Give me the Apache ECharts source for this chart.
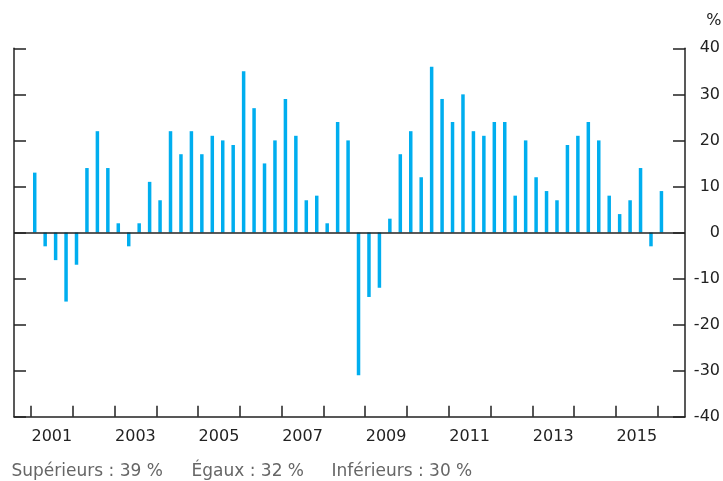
<!DOCTYPE html>
<html>
<head>
<meta charset="utf-8">
<script src="https://cdn.jsdelivr.net/npm/echarts@6/dist/echarts.min.js"></script>
<style>
html,body{margin:0;padding:0;background:#fff;}
#chart{width:723px;height:481px;}
</style>
</head>
<body>
<div id="chart"></div>
<script>
// Quarterly values, 2001 Q1 to 2016 Q1 (%)
const firstYear = 2001;
const values = [
  13, -3, -6, -15,
  -7, 14, 22, 14,
  2, -3, 2, 11,
  7, 22, 17, 22,
  17, 21, 20, 19,
  35, 27, 15, 20,
  29, 21, 7, 8,
  2, 24, 20, -31,
  -14, -12, 3, 17,
  22, 12, 36, 29,
  24, 30, 22, 21,
  24, 24, 8, 20,
  12, 9, 7, 19,
  21, 24, 20, 8,
  4, 7, 14, -3,
  9
];
const tickYears = [2001,2002,2003,2004,2005,2006,2007,2008,2009,2010,2011,2012,2013,2014,2015,2016];
const labelYears = [2001,2003,2005,2007,2009,2011,2013,2015];
const yTicks = [-40,-30,-20,-10,0,10,20,30,40];
const footnotes = ['Supérieurs : 39 %', 'Égaux : 32 %', 'Inférieurs : 30 %'];

const data = values.map((v, i) => [firstYear + i * 0.25 + 0.09, v]);

const FONT = 'DejaVu Sans';
const AX = '#222';

const chart = echarts.init(document.getElementById('chart'), null, {renderer: 'canvas'});
chart.setOption({
  animation: false,
  backgroundColor: '#fff',
  grid: {left: 14, right: 36.3, top: 48.3, bottom: 64.3, containLabel: false},
  xAxis: {
    type: 'value',
    min: 2000.594,
    max: 2016.654,
    splitLine: {show: false},
    axisLine: {show: true, onZero: false, lineStyle: {color: AX, width: 1.5}},
    axisTick: {show: true, inside: true, length: 11, customValues: tickYears, lineStyle: {color: AX, width: 1.5}},
    axisLabel: {
      show: true, margin: 12,
      customValues: labelYears.map(y => y + 0.5),
      formatter: v => String(Math.floor(v)),
      fontFamily: FONT, fontSize: 16, color: AX
    }
  },
  yAxis: [
    {
      type: 'value', position: 'right', min: -40, max: 40, interval: 10,
      splitLine: {show: false},
      axisLine: {show: true, onZero: false, lineStyle: {color: AX, width: 1.5}},
      axisTick: {show: true, inside: true, length: 12, lineStyle: {color: AX, width: 1.5}},
      axisLabel: {show: true, margin: 35, align: 'right', fontFamily: FONT, fontSize: 16, color: AX,
        customValues: yTicks}
    },
    {
      type: 'value', position: 'left', min: -40, max: 40, interval: 10,
      splitLine: {show: false},
      axisLine: {show: true, onZero: false, lineStyle: {color: AX, width: 1.5}},
      axisTick: {show: true, inside: true, length: 12, lineStyle: {color: AX, width: 1.5}},
      axisLabel: {show: false}
    }
  ],
  series: [{
    type: 'bar',
    yAxisIndex: 0,
    data: data,
    barWidth: 3.5,
    itemStyle: {color: '#00AEEF'},
    markLine: {
      silent: true,
      symbol: ['none', 'none'],
      label: {show: false},
      lineStyle: {color: AX, width: 1.5, type: 'solid'},
      data: [{yAxis: 0}]
    }
  }],
  graphic: [
    {type: 'text', right: 1.5, top: 13, style: {text: '%', fontFamily: FONT, fontSize: 16, fill: AX}},
    {type: 'text', left: 11.5, top: 463, style: {text: footnotes[0], fontFamily: FONT, fontSize: 17, fill: '#666'}},
    {type: 'text', left: 191.5, top: 463, style: {text: footnotes[1], fontFamily: FONT, fontSize: 17, fill: '#666'}},
    {type: 'text', left: 331.5, top: 463, style: {text: footnotes[2], fontFamily: FONT, fontSize: 17, fill: '#666'}}
  ]
});
</script>
</body>
</html>
